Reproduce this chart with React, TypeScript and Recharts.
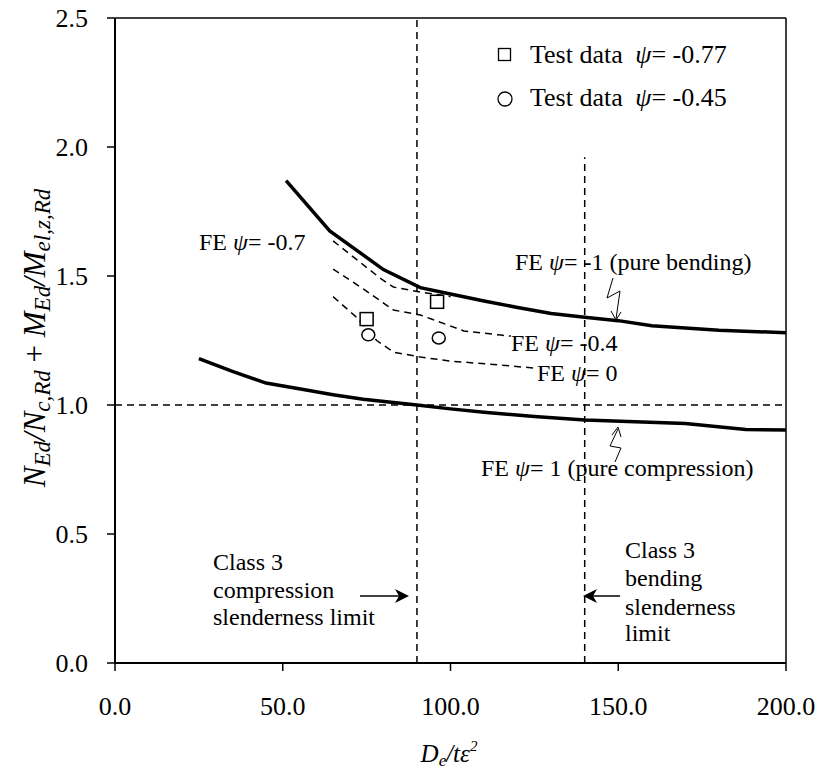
import React from "react";
import {
  ComposedChart,
  Scatter,
  XAxis,
  YAxis,
  ReferenceLine,
  Legend,
} from "recharts";

// FE curves
const bendingX = [51, 64, 80, 91, 100, 110, 120, 130, 140, 150, 160, 180, 200];
const bendingY = [1.87, 1.675, 1.525, 1.455, 1.43, 1.403, 1.378, 1.355, 1.34, 1.327, 1.307, 1.29, 1.28];

const compressionX = [25, 35, 45, 57, 65, 74, 90, 100, 110, 125, 140, 155, 170, 188, 200];
const compressionY = [1.18, 1.13, 1.085, 1.058, 1.04, 1.022, 1.0, 0.985, 0.972, 0.955, 0.942, 0.935, 0.928, 0.905, 0.903];

const psiM07X = [65, 79, 83, 91, 100];
const psiM07Y = [1.636, 1.492, 1.457, 1.438, 1.42];

const psiM04X = [65, 74, 83, 91, 104, 115, 118];
const psiM04Y = [1.527, 1.45, 1.368, 1.349, 1.287, 1.271, 1.267];

const psi0X = [65, 72, 78, 83, 91, 100, 115, 125];
const psi0Y = [1.42, 1.34, 1.25, 1.205, 1.186, 1.17, 1.155, 1.143];

// test points
const test077X = [75, 96];
const test077Y = [1.333, 1.4];
const test045X = [75.5, 96.5];
const test045Y = [1.272, 1.26];

const xTicks = [0, 50, 100, 150, 200];
const yTicks = [0, 0.5, 1.0, 1.5, 2.0, 2.5];

const toPts = (xs: number[], ys: number[]) => xs.map((x, i) => ({ x, y: ys[i] }));

const FONT = "'Liberation Serif', 'Times New Roman', serif";
const FS = 24;

const Nothing = () => <g />;

const SquareMark = (props: any) => (
  <rect x={props.cx - 6.5} y={props.cy - 6.5} width={13} height={13} fill="#fff" stroke="#000" strokeWidth={1.5} />
);
const CircleMark = (props: any) => (
  <ellipse cx={props.cx} cy={props.cy} rx={6.5} ry={6} fill="#fff" stroke="#000" strokeWidth={1.5} />
);

const Psi = () => <tspan fontStyle="italic" dx={6}>ψ</tspan>;

const LegendBox = () => (
  <div style={{ position: "relative", width: 294, height: 124, background: "#fff", fontFamily: FONT, fontSize: 26, color: "#000" }}>
    <svg width={16} height={16} style={{ position: "absolute", left: 7, top: 19 }}>
      <rect x={1.5} y={1.5} width={12} height={12} fill="#fff" stroke="#000" strokeWidth={1.3} />
    </svg>
    <div style={{ position: "absolute", left: 40, top: 10, whiteSpace: "nowrap", lineHeight: "34px" }}>
      Test data <i style={{ marginLeft: 6 }}>ψ</i>= -0.77
    </div>
    <svg width={18} height={18} style={{ position: "absolute", left: 6, top: 62 }}>
      <circle cx={9} cy={9} r={7} fill="#fff" stroke="#000" strokeWidth={1.3} />
    </svg>
    <div style={{ position: "absolute", left: 40, top: 53, whiteSpace: "nowrap", lineHeight: "34px" }}>
      Test data <i style={{ marginLeft: 6 }}>ψ</i>= -0.45
    </div>
  </div>
);

const txt = { fontFamily: FONT, fontSize: FS, fill: "#000" } as const;

export default function App() {
  return (
    <div style={{ position: "absolute", left: 0, top: 0, width: 817, height: 774, background: "#fff" }}>
      <ComposedChart width={817} height={774} margin={{ top: 18, right: 31, bottom: 51, left: 0 }}>
        <XAxis
          type="number"
          dataKey="x"
          domain={[0, 200]}
          ticks={xTicks}
          tickFormatter={(v: number) => v.toFixed(1)}
          height={60}
          tickSize={8}
          tickMargin={26}
          axisLine={{ stroke: "#000", strokeWidth: 2 }}
          tickLine={{ stroke: "#000", strokeWidth: 1.5 }}
          tick={{ fill: "#000", fontFamily: FONT, fontSize: 26 }}
          interval={0}
        />
        <YAxis
          type="number"
          dataKey="y"
          domain={[0, 2.5]}
          ticks={yTicks}
          tickFormatter={(v: number) => v.toFixed(1)}
          width={115}
          tickSize={8}
          tickMargin={19}
          axisLine={{ stroke: "#000", strokeWidth: 2 }}
          tickLine={{ stroke: "#000", strokeWidth: 1.5 }}
          tick={{ fill: "#000", fontFamily: FONT, fontSize: 26 }}
          interval={0}
        />
        <ReferenceLine y={2.5} stroke="#000" strokeWidth={1.5} />
        <ReferenceLine x={200} stroke="#000" strokeWidth={1.5} />
        <ReferenceLine y={1.0} stroke="#000" strokeWidth={1.5} strokeDasharray="7 5" />
        <ReferenceLine x={90} stroke="#000" strokeWidth={1.5} strokeDasharray="7 5" />
        <ReferenceLine
          segment={[{ x: 140, y: 0 }, { x: 140, y: 1.96 }]}
          stroke="#000"
          strokeWidth={1.5}
          strokeDasharray="7 5"
        />

        <Scatter data={toPts(bendingX, bendingY)} line={{ stroke: "#000", strokeWidth: 3.5 }} shape={Nothing} isAnimationActive={false} />
        <Scatter data={toPts(compressionX, compressionY)} line={{ stroke: "#000", strokeWidth: 3.5 }} shape={Nothing} isAnimationActive={false} />
        <Scatter data={toPts(psiM07X, psiM07Y)} line={{ stroke: "#000", strokeWidth: 1.5, strokeDasharray: "7 5" }} shape={Nothing} isAnimationActive={false} />
        <Scatter data={toPts(psiM04X, psiM04Y)} line={{ stroke: "#000", strokeWidth: 1.5, strokeDasharray: "7 5" }} shape={Nothing} isAnimationActive={false} />
        <Scatter data={toPts(psi0X, psi0Y)} line={{ stroke: "#000", strokeWidth: 1.5, strokeDasharray: "7 5" }} shape={Nothing} isAnimationActive={false} />
        <Scatter data={toPts(test077X, test077Y)} shape={SquareMark} isAnimationActive={false} />
        <Scatter data={toPts(test045X, test045Y)} shape={CircleMark} isAnimationActive={false} />

        <Legend
          layout="vertical"
          align="center"
          verticalAlign="middle"
          content={() => <LegendBox />}
          wrapperStyle={{ top: 28, left: 490, width: 294, height: 124 }}
        />

        {/* annotations */}
        <g>
          <text x={199} y={242} dominantBaseline="central" {...txt}>FE<Psi />= -0.7</text>
          <text x={515} y={262} dominantBaseline="central" {...txt}>FE<Psi />= -1 (pure bending)</text>
          <text x={511} y={343} dominantBaseline="central" {...txt}>FE<Psi />= -0.4</text>
          <text x={537} y={373} dominantBaseline="central" {...txt}>FE<Psi />= 0</text>
          <text x={481} y={468} dominantBaseline="central" {...txt}>FE<Psi />= 1 (pure compression)</text>

          <path d="M613,278 L607,298 L620,291 L616,319" fill="none" stroke="#000" strokeWidth={1} />
          <path d="M611,311 L616,320 L621,312" fill="none" stroke="#000" strokeWidth={1} />
          <path d="M615,462 L621,448 L610,446 L618,429" fill="none" stroke="#000" strokeWidth={1} />
          <path d="M612,435 L618,427 L621,437" fill="none" stroke="#000" strokeWidth={1} />

          <text x={213} y={562} dominantBaseline="central" {...txt}>Class 3</text>
          <text x={213} y={590} dominantBaseline="central" {...txt}>compression</text>
          <text x={213} y={617} dominantBaseline="central" {...txt}>slenderness limit</text>
          <line x1={360} y1={596} x2={402} y2={596} stroke="#000" strokeWidth={1.5} />
          <path d="M409,596 L395,589 L399,596 L395,603 Z" fill="#000" />

          <text x={625} y={550} dominantBaseline="central" {...txt}>Class 3</text>
          <text x={625} y={578} dominantBaseline="central" {...txt}>bending</text>
          <text x={625} y={607} dominantBaseline="central" {...txt}>slenderness</text>
          <text x={625} y={633} dominantBaseline="central" {...txt}>limit</text>
          <line x1={620} y1={596} x2={590} y2={596} stroke="#000" strokeWidth={1.5} />
          <path d="M583,596 L597,589 L593,596 L597,603 Z" fill="#000" />

          {/* axis titles */}
          <text x={449} y={762} textAnchor="middle" fontFamily={FONT} fontSize={25} fontStyle="italic">
            D<tspan fontSize={17} dy={4}>e</tspan>
            <tspan dy={-4}>/tε</tspan>
            <tspan fontSize={15} dy={-11}>2</tspan>
          </text>
          <text
            x={45}
            y={338}
            transform="rotate(-90 45 338)"
            textAnchor="middle"
            fontFamily={FONT}
            fontSize={31}
            fontStyle="italic"
          >
            N<tspan fontSize={23} dy={5}>Ed</tspan>
            <tspan dy={-5}>/N</tspan>
            <tspan fontSize={23} dy={5}>c,Rd</tspan>
            <tspan dy={-5} fontStyle="normal"> + </tspan>
            <tspan>M</tspan>
            <tspan fontSize={23} dy={5}>Ed</tspan>
            <tspan dy={-5}>/M</tspan>
            <tspan fontSize={23} dy={5}>el,z,Rd</tspan>
          </text>
        </g>
      </ComposedChart>
    </div>
  );
}
